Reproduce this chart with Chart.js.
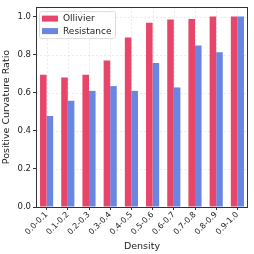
<!DOCTYPE html>
<html><head><meta charset="utf-8">
<script src="https://cdn.jsdelivr.net/npm/chart.js@4/dist/chart.umd.min.js"></script>
<style>html,body{margin:0;padding:0;background:#fff}#c{display:block}</style>
</head><body>
<canvas id="c" width="254" height="254"></canvas>
<script>
const categories = ["0.0-0.1","0.1-0.2","0.2-0.3","0.3-0.4","0.4-0.5","0.5-0.6","0.6-0.7","0.7-0.8","0.8-0.9","0.9-1.0"];
const ollivier = [0.695,0.68,0.695,0.77,0.89,0.968,0.985,0.988,1.0,1.0];
const resistance = [0.478,0.558,0.61,0.635,0.61,0.757,0.628,0.848,0.813,1.0];
const yTicks = [0.0,0.2,0.4,0.6,0.8,1.0];

const FONT = "'DejaVu Sans', sans-serif";
const frame = {
  id:'frame',
  beforeDatasetsDraw(chart){
    const a = chart.chartArea, ctx = chart.ctx;
    ctx.save();
    ctx.strokeStyle = 'rgba(200,200,200,0.6)';
    ctx.lineWidth = 0.6;
    ctx.setLineDash([2,2]);
    const x = chart.scales.x, y = chart.scales.y;
    yTicks.forEach(v=>{const py=Math.round(y.getPixelForValue(v))+0.5;ctx.beginPath();ctx.moveTo(a.left,py);ctx.lineTo(a.right,py);ctx.stroke();});
    categories.forEach((c,i)=>{const px=Math.round(x.getPixelForValue(i))+0.5;ctx.beginPath();ctx.moveTo(px,a.top);ctx.lineTo(px,a.bottom);ctx.stroke();});
    ctx.restore();
  },
  afterDatasetsDraw(chart){
    const a = chart.chartArea, ctx = chart.ctx;
    ctx.save();
    ctx.strokeStyle = '#333';
    ctx.lineWidth = 1;
    ctx.strokeRect(Math.round(a.left)+0.5, Math.round(a.top)+0.5, Math.round(a.right-a.left)-1, Math.round(a.bottom-a.top));
    // legend
    const lx = a.left+3, ly = a.top+4, w = 76, h = 27;
    ctx.fillStyle = 'rgba(255,255,255,0.85)';
    ctx.strokeStyle = '#ddd';
    ctx.lineWidth = 1;
    ctx.beginPath();
    ctx.roundRect ? ctx.roundRect(lx+0.5, ly+0.5, w, h, 2) : ctx.rect(lx+0.5,ly+0.5,w,h);
    ctx.fill(); ctx.stroke();
    ctx.font = "9px " + FONT;
    ctx.textBaseline = 'middle';
    chart.data.datasets.forEach((ds,i)=>{
      const yy = ly + 7.5 + i*12.5;
      ctx.fillStyle = ds.backgroundColor;
      ctx.fillRect(lx+3, yy-3, 16, 6);
      ctx.fillStyle = '#222';
      ctx.fillText(ds.label, lx+24, yy+0.5);
    });
    ctx.restore();
  }
};

new Chart(document.getElementById('c'), {
  type:'bar',
  data:{
    labels: categories,
    datasets:[
      {label:'Ollivier', data: ollivier, backgroundColor:'rgb(232,69,106)', categoryPercentage:0.62, barPercentage:1.0},
      {label:'Resistance', data: resistance, backgroundColor:'rgb(104,134,226)', categoryPercentage:0.62, barPercentage:1.0}
    ]
  },
  options:{
    responsive:false, animation:false, devicePixelRatio:1,
    layout:{padding:{left:1,right:6,top:5,bottom:0}},
    plugins:{legend:{display:false}, tooltip:{enabled:false}},
    scales:{
      x:{
        grid:{display:true, drawOnChartArea:false, drawTicks:true, tickLength:3, color:'#333', offset:false},
        border:{display:false},
        ticks:{font:{family:FONT,size:8}, color:'#222', maxRotation:45, minRotation:45, padding:0},
        title:{display:true, text:'Density', font:{family:FONT,size:9.5}, color:'#222', padding:{top:0,bottom:2}},
        afterFit(s){s.height = 47;}
      },
      y:{
        min:0, max:1.05,
        afterBuildTicks(s){s.ticks = yTicks.map(v=>({value:v}));},
        grid:{display:true, drawOnChartArea:false, drawTicks:true, tickLength:3, color:'#333'},
        border:{display:false},
        ticks:{font:{family:FONT,size:8.5}, color:'#222', callback:v=>v.toFixed(1), padding:2},
        title:{display:true, text:'Positive Curvature Ratio', font:{family:FONT,size:9.5}, color:'#222', padding:{top:0,bottom:1}},
        afterFit(s){s.width = 35;}
      }
    }
  },
  plugins:[frame]
});
</script>
</body></html>
